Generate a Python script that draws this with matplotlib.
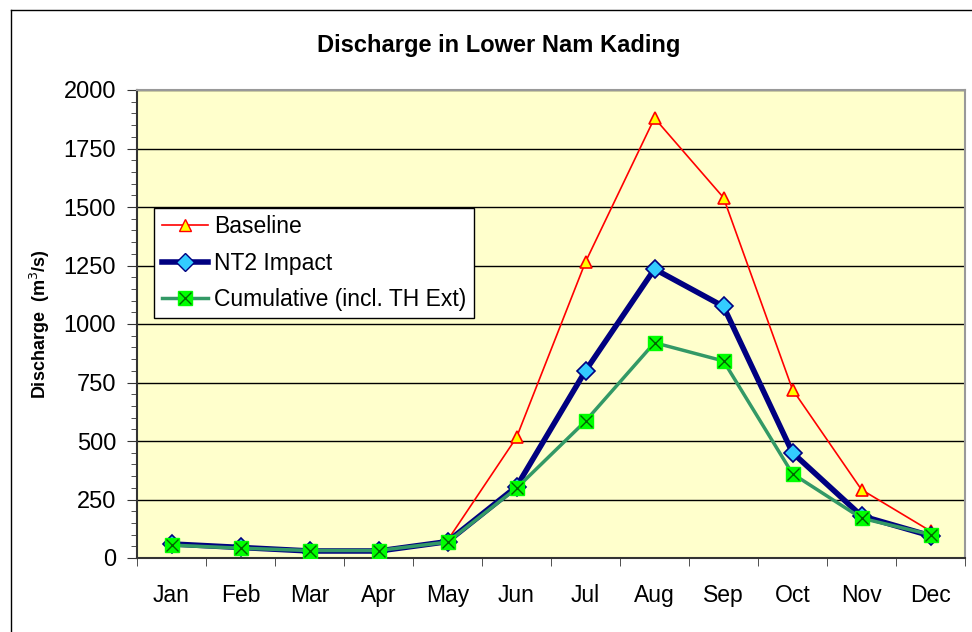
import matplotlib
matplotlib.use("Agg")
import matplotlib.pyplot as plt
from matplotlib.lines import Line2D

plt.rcParams['font.family'] = ['Liberation Sans', 'DejaVu Sans']

# data
months = ['Jan', 'Feb', 'Mar', 'Apr', 'May', 'Jun', 'Jul', 'Aug', 'Sep', 'Oct', 'Nov', 'Dec']
baseline = [65, 50, 35, 35, 75, 515, 1265, 1880, 1540, 720, 292, 115]
nt2_impact = [60, 45, 30, 30, 70, 305, 800, 1235, 1075, 450, 180, 95]
cumulative = [55, 42, 32, 32, 68, 298, 585, 920, 842, 360, 170, 100]
yticks = [0, 250, 500, 750, 1000, 1250, 1500, 1750, 2000]

fig = plt.figure(figsize=(9.72, 6.32), dpi=100)
ax = fig.add_axes([137 / 972, 74 / 632, 828 / 972, 468 / 632])
ax.set_facecolor('#FFFFCC')

x = list(range(len(months)))

ax.plot(x, baseline, color='#FF0000', lw=1.2, marker='^', ms=8,
        mfc='#FFFF00', mec='#FF0000', mew=1.2, zorder=3)
ax.plot(x, nt2_impact, color='#000080', lw=4, marker='D', ms=9,
        mfc='#33CCFF', mec='#000080', mew=1.2, zorder=4)
ax.plot(x, cumulative, color='#339966', lw=2.5, marker='s', ms=10,
        mfc='#00FF00', mec='#00FF00', zorder=5)
ax.plot(x, cumulative, ls='none', marker='x', ms=8, mec='#006600', mew=1.0, zorder=6)

ax.set_xlim(-0.5, 11.5)
ax.set_ylim(0, 2000)
ax.set_xticks(x)
ax.set_xticklabels(months, fontsize=16.5)
ax.set_xticks([i + 0.5 for i in range(-1, 12)], minor=True)
ax.tick_params(axis='x', which='major', length=0, pad=19)
ax.tick_params(axis='x', which='minor', length=6, color='#333333')
ax.set_yticks(yticks)
ax.set_yticklabels([str(v) for v in yticks], fontsize=17)
ax.set_yticks(range(0, 2001, 50), minor=True)
ax.tick_params(axis='y', which='major', length=7, color='#333333', pad=8)
ax.tick_params(axis='y', which='minor', length=4, color='#333333')
ax.grid(axis='y', which='major', color='black', lw=1)
ax.set_axisbelow(True)

for side in ['left', 'bottom']:
    ax.spines[side].set_color('#333333')
    ax.spines[side].set_linewidth(1.5)
for side in ['top', 'right']:
    ax.spines[side].set_color('#999999')
    ax.spines[side].set_linewidth(1.5)

ax.set_ylabel('Discharge  (m$^3$/s)', fontsize=13, fontweight='bold', labelpad=8)
fig.text(0.513, 0.928, 'Discharge in Lower Nam Kading', ha='center', va='center',
         fontsize=17, fontweight='bold')

h1 = Line2D([], [], color='#FF0000', lw=1.2, marker='^', ms=8, mfc='#FFFF00', mec='#FF0000')
h2 = Line2D([], [], color='#000080', lw=4, marker='D', ms=9, mfc='#33CCFF', mec='#000080')
h3a = Line2D([], [], color='#339966', lw=2.5, marker='s', ms=10, mfc='#00FF00', mec='#00FF00')
h3b = Line2D([], [], ls='none', marker='x', ms=8, mec='#006600')
leg = ax.legend([h1, h2, (h3a, h3b)], ['Baseline', 'NT2 Impact', 'Cumulative (incl. TH Ext)'],
                loc='upper left', bbox_to_anchor=(0.021, 0.748), fontsize=16.5,
                frameon=True, fancybox=False, edgecolor='black', framealpha=1,
                handlelength=2.0, handletextpad=0.3, borderpad=0.32, labelspacing=0.58,
                borderaxespad=0)
leg.get_frame().set_linewidth(1)

# outer chart border
fig.add_artist(Line2D([11 / 972, 11 / 972], [0, 1 - 10 / 632], color='black', lw=1,
                      transform=fig.transFigure))
fig.add_artist(Line2D([11 / 972, 1], [1 - 10 / 632, 1 - 10 / 632], color='black', lw=1,
                      transform=fig.transFigure))

fig.savefig('out.png', dpi=100)
